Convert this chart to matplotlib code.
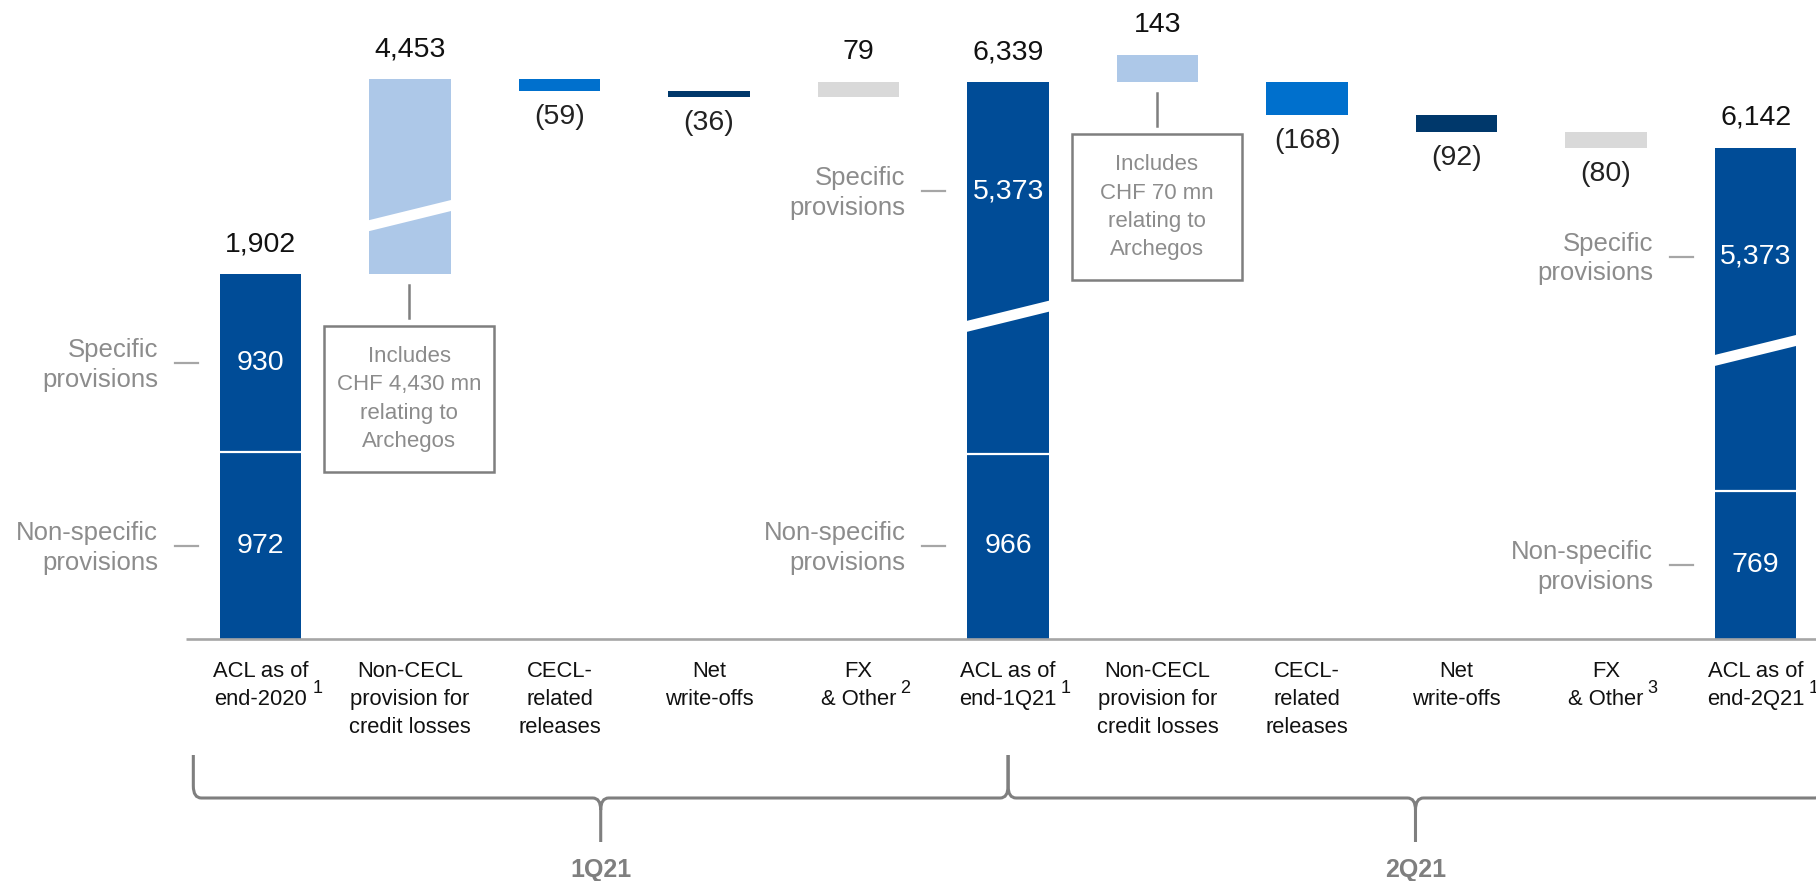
import matplotlib.pyplot as plt
from matplotlib.path import Path
from matplotlib.patches import PathPatch, Polygon, Rectangle

plt.rcParams['font.family'] = ['Liberation Sans', 'DejaVu Sans']

# ---- data (CHF mn) ----
categories = ['ACL as of\nend-2020', 'Non-CECL\nprovision for\ncredit losses', 'CECL-\nrelated\nreleases',
              'Net\nwrite-offs', 'FX\n& Other', 'ACL as of\nend-1Q21', 'Non-CECL\nprovision for\ncredit losses',
              'CECL-\nrelated\nreleases', 'Net\nwrite-offs', 'FX\n& Other', 'ACL as of\nend-2Q21']
footnotes = ['1', '', '', '', '2', '1', '', '', '', '3', '1']
kinds = ['total', 'noncecl', 'cecl', 'nwo', 'fx', 'total', 'noncecl', 'cecl', 'nwo', 'fx', 'total']
values = [1902, 4453, -59, -36, 79, 6339, 143, -168, -92, -80, 6142]
specific = [930, 5373, 5373]
non_specific = [972, 966, 769]
callouts = {1: 'Includes\nCHF 4,430 mn\nrelating to\nArchegos',
            6: 'Includes\nCHF 70 mn\nrelating to\nArchegos'}
periods = ['1Q21', '2Q21']
period_edges = [0, 5, 10]

# part of the 1Q21 Archegos provision cut out by the axis break
hidden = [0, 3438, 0, 0, 0, 0, 0, 0, 0, 0, 0]
# as in the source slide, the 2Q21 non-CECL bar sits on the 1Q21 level
# and the following steps start from that level again
advances = [True, True, True, True, True, True, False, True, True, True, True]

colors = {'total': '#004c97', 'noncecl': '#adc8e8', 'cecl': '#0070cd',
          'nwo': '#00386b', 'fx': '#d9d9d9'}
grey_txt = '#8c8c8c'
grey_line = '#7f7f7f'

# ---- layout (pixels of the 1816x881 canvas) ----
W, H = 1816, 881
base_px = 639
x0_px, step_px = 260.6, 149.5
ppu = 365 / 1902          # pixels per CHF mn


def px_x(p):
    return p / step_px


def px_y(p):
    return p / ppu


fig = plt.figure(figsize=(W / 100, H / 100), dpi=100)
ax = fig.add_axes([0, 0, 1, 1])
ax.set_xlim(-x0_px / step_px, (W - x0_px) / step_px)
ax.set_ylim(-px_y(H - base_px), px_y(base_px))
ax.axis('off')

bw = 0.545
val_fs = 20.5

# running level of the waterfall as drawn
level = 0
bottoms, tops = [], []
for i, (k, v) in enumerate(zip(kinds, values)):
    if k == 'total':
        b, t = 0, (v if i == 0 else level)
        level = t
    else:
        b, t = level, level + v - hidden[i]
        if advances[i]:
            level = t
    bottoms.append(b)
    tops.append(t)

break_frac = {1: 0.30, 5: 0.37, 10: 0.41}

j = 0
for i, k in enumerate(kinds):
    if k == 'total':
        ns = non_specific[j]
        ax.bar(i, ns, bottom=0, width=bw, color=colors[k], zorder=2)
        ax.bar(i, tops[i] - ns, bottom=ns, width=bw, color=colors[k], zorder=2)
        ax.plot([i - bw / 2, i + bw / 2], [ns, ns], color='white', lw=1.6, zorder=3)
        seg_lo = ns
        broken = tops[i] < values[i] - 1
        # inside labels
        if broken:
            ys = tops[i] - px_y(109)
        else:
            ys = (ns + tops[i]) / 2
        yn = ns / 2
        ax.text(i, ys, f'{specific[j]:,}', color='white', fontsize=val_fs, ha='center', va='center', zorder=4)
        ax.text(i, yn, f'{ns:,}', color='white', fontsize=val_fs, ha='center', va='center', zorder=4)
        # side labels with dashes
        xl = i - bw / 2
        for yy, lab in [(ys, 'Specific\nprovisions'), (yn, 'Non-specific\nprovisions')]:
            ax.plot([xl - px_x(45), xl - px_x(22)], [yy, yy], color='#a6a6a6', lw=1.6)
            ax.text(xl - px_x(62), yy - px_y(2), lab, color=grey_txt, fontsize=18.5,
                    ha='right', va='center', linespacing=1.3, multialignment='right')
        ax.annotate(f'{values[i]:,}', (i, tops[i]), xytext=(0, 21.6), textcoords='offset points',
                    ha='center', va='center', fontsize=val_fs, color='#111111')
        j += 1
    else:
        ax.bar(i, tops[i] - bottoms[i], bottom=bottoms[i], width=bw, color=colors[k], zorder=2)
        seg_lo = bottoms[i]
        broken = (tops[i] - bottoms[i]) < values[i] - 1
        if values[i] > 0:
            ax.annotate(f'{values[i]:,}', (i, tops[i]), xytext=(0, 21.6), textcoords='offset points',
                        ha='center', va='center', fontsize=val_fs, color='#111111')
        else:
            ax.annotate(f'({abs(values[i])})', (i, min(tops[i], bottoms[i])), xytext=(0, -18.7),
                        textcoords='offset points', ha='center', va='center', fontsize=val_fs, color='#222222')
    if broken:
        yc = seg_lo + break_frac[i] * (max(tops[i], bottoms[i]) - seg_lo)
        xa, xb = i - bw / 2 - px_x(2), i + bw / 2 + px_x(2)
        s, h = px_y(10.5), px_y(5.5)
        ax.add_patch(Polygon([(xa, yc - s - h), (xb, yc + s - h), (xb, yc + s + h), (xa, yc - s + h)],
                             closed=True, facecolor='white', edgecolor='none', zorder=3))

# baseline
ax.plot([-0.5, ax.get_xlim()[1]], [0, 0], color='#a6a6a6', lw=1.9, zorder=3, solid_capstyle='butt')

# callout boxes
for i, txt in callouts.items():
    yb = bottoms[i]
    xc = i - px_x(1)
    ax.plot([xc, xc], [yb - px_y(11), yb - px_y(44)], color=grey_line, lw=1.8)
    top = yb - px_y(52)
    ax.add_patch(Rectangle((xc - px_x(85), top - px_y(146)), px_x(170), px_y(146),
                           fill=False, edgecolor=grey_line, lw=1.8))
    ax.text(xc, top - px_y(73), txt, color=grey_txt, fontsize=16, ha='center', va='center',
            linespacing=1.45, multialignment='center')

# category labels
cat_texts = []
for i, cat in enumerate(categories):
    t = ax.annotate(cat, (i, 0), xytext=(0, -15.5), textcoords='offset points', ha='center', va='top',
                    fontsize=15.8, linespacing=1.45, multialignment='center', color='#111111')
    cat_texts.append(t)

fig.canvas.draw()
rend = fig.canvas.get_renderer()
for t, note in zip(cat_texts, footnotes):
    if note:
        bb = t.get_window_extent(rend)
        fig.text((bb.x1 + 4) / W, (bb.y0 + 30) / H, note, fontsize=13, ha='left', va='top', color='#111111')

# period braces
M, L, C = Path.MOVETO, Path.LINETO, Path.CURVE3
yh, ytop, ytip = -px_y(159), -px_y(116), -px_y(203)
r, rv = px_x(8), px_y(12)
pad = 0.45
for p, (s, e) in enumerate(zip(period_edges[:-1], period_edges[1:])):
    xl = s - pad if p == 0 else s
    xr = e + pad if p == len(periods) - 1 else e
    xm = (xl + xr) / 2
    verts = [(xl, ytop), (xl, yh + rv), (xl, yh), (xl + r, yh),
             (xm - r, yh), (xm, yh), (xm, yh - rv), (xm, ytip),
             (xm, yh - rv), (xm, yh), (xm + r, yh),
             (xr - r, yh), (xr, yh), (xr, yh + rv), (xr, ytop)]
    codes = [M, L, C, C, L, C, C, L, M, C, C, L, C, C, L]
    ax.add_patch(PathPatch(Path(verts, codes), fill=False, edgecolor=grey_line, lw=2.2,
                           capstyle='butt', clip_on=False))
    ax.text(xm, -px_y(230.5), periods[p], fontsize=18, fontweight='bold', color=grey_line,
            ha='center', va='center')

fig.savefig('out.png', dpi=100)
